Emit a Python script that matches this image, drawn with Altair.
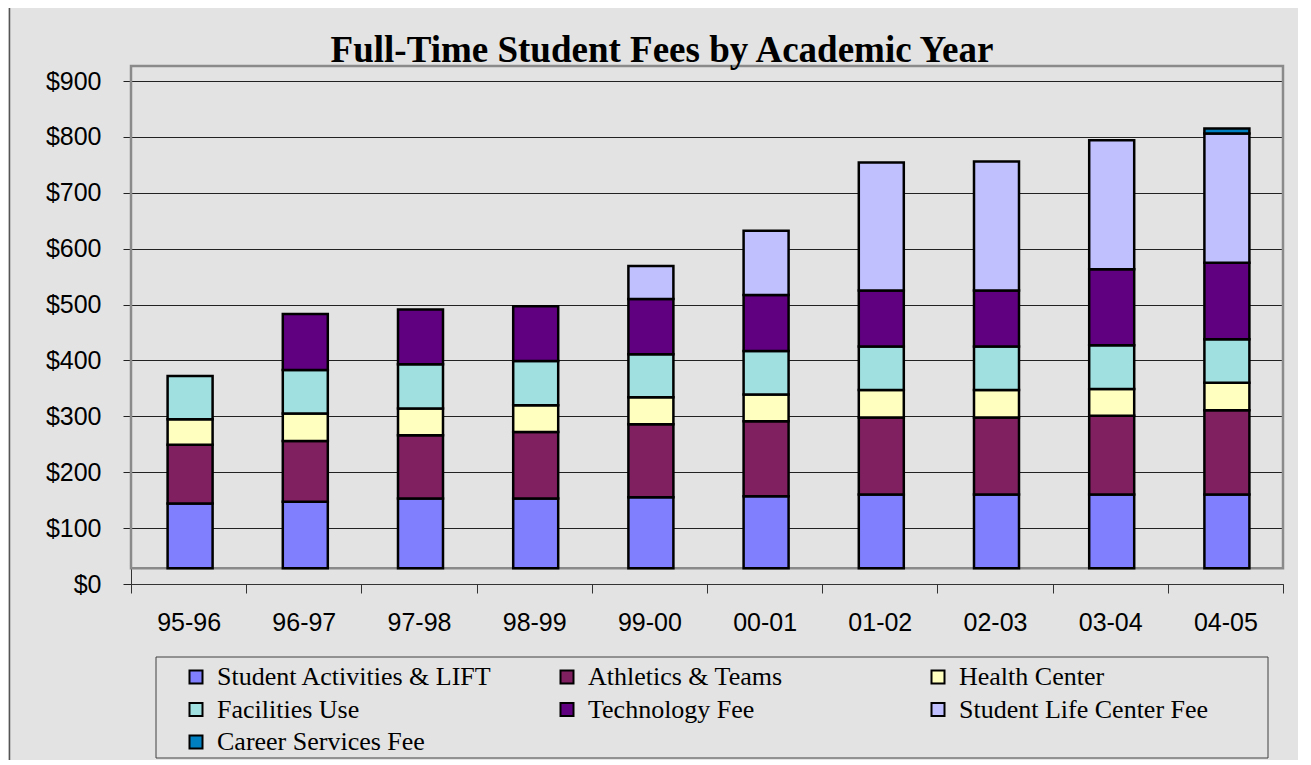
import altair as alt
import pandas as pd

TITLE = "Full-Time Student Fees by Academic Year"
YEARS = ["95-96", "96-97", "97-98", "98-99", "99-00", "00-01", "01-02", "02-03", "03-04", "04-05"]
SERIES = [
    "Student Activities & LIFT",
    "Athletics & Teams",
    "Health Center",
    "Facilities Use",
    "Technology Fee",
    "Student Life Center Fee",
    "Career  Services Fee",
]
COLORS = ["#8080FF", "#802060", "#FFFFC0", "#A0E0E0", "#600080", "#C0C0FF", "#0080C0"]

student_activities = [144, 147, 153, 153, 155, 157, 160, 160, 160, 160]
athletics = [105, 109, 113, 119, 131, 134, 138, 138, 141, 151]
health_center = [46, 49, 48, 48, 48, 48, 49, 49, 48, 49]
facilities = [77, 78, 79, 79, 77, 78, 78, 78, 78, 78]
technology = [0, 100, 98, 98, 99, 100, 100, 100, 136, 137]
student_life_center = [0, 0, 0, 0, 59, 115, 229, 231, 231, 231]
career_services = [0, 0, 0, 0, 0, 0, 0, 0, 0, 9]
SERIES_VALUES = [student_activities, athletics, health_center, facilities,
                 technology, student_life_center, career_services]

Y_TICKS = [0, 100, 200, 300, 400, 500, 600, 700, 800, 900]
FLOOR = 28       # level of the 3-D floor the columns stand on
WALL_TOP = 927   # top edge of the back wall

rows = []
for i, yr in enumerate(YEARS):
    cum = 0
    for k, (s, vals) in enumerate(zip(SERIES, SERIES_VALUES)):
        v = vals[i]
        if v <= 0:
            continue
        lo = max(cum, FLOOR)
        cum += v
        rows.append({"year": yr, "series": s, "order": k, "lo": lo, "hi": cum, "fee": v})
df = pd.DataFrame(rows)

W, H = 1152, 503

wall = alt.Chart(pd.DataFrame({"lo": [FLOOR], "hi": [WALL_TOP]})).mark_rect(
    filled=False, stroke="#8a8a8a", strokeWidth=2.5
).encode(
    x=alt.value(0), x2=alt.value("width"),
    y=alt.Y("hi:Q", title=None), y2="lo:Q",
)

bars = alt.Chart(df).mark_bar(size=45, stroke="black", strokeWidth=2.5, xOffset=1.5).encode(
    x=alt.X("year:N", sort=YEARS, title=None,
            scale=alt.Scale(paddingInner=0, paddingOuter=0),
            axis=alt.Axis(labelAngle=0, tickBand="extent", tickSize=9, labelPadding=17,
                          labelFont="Liberation Sans", labelFontSize=25, labelColor="black",
                          domainColor="#333333", tickColor="#333333", grid=False)),
    y=alt.Y("hi:Q", title=None,
            scale=alt.Scale(domain=[0, 900], nice=False, zero=True),
            axis=alt.Axis(values=Y_TICKS, labelExpr="'$' + datum.value", tickSize=8,
                          labelPadding=22, labelFont="Liberation Sans", labelFontSize=25,
                          labelColor="black", domainColor="#333333", tickColor="#222222",
                          grid=True, gridColor="#222222", gridWidth=1)),
    y2="lo:Q",
    color=alt.Color("series:N", scale=alt.Scale(domain=SERIES, range=COLORS),
                    legend=alt.Legend(orient="none", legendX=52, legendY=583, columns=3,
                                      direction="horizontal",
                                      gridAlign="all", columnPadding=61, rowPadding=6.5,
                                      symbolType="square", symbolSize=169,
                                      symbolStrokeWidth=2, symbolStrokeColor="black",
                                      labelFont="Liberation Serif", labelFontSize=26,
                                      labelOffset=8, labelLimit=600, labelColor="black",
                                      padding=0, title=None)),
    order=alt.Order("order:Q"),
)

legend_box = alt.Chart(pd.DataFrame({"k": [0]})).mark_rect(
    filled=False, stroke="#404040", strokeWidth=1
).encode(x=alt.value(25), x2=alt.value(1137), y=alt.value(576), y2=alt.value(677))

title = alt.Chart(pd.DataFrame({"t": [TITLE]})).mark_text(
    font="Liberation Serif", fontSize=37, fontWeight="bold", align="center",
    baseline="alphabetic", color="black"
).encode(text="t:N", x=alt.value(531), y=alt.value(-19))

left_border = alt.Chart(pd.DataFrame({"k": [0]})).mark_rule(
    color="#555555", strokeWidth=1.5
).encode(x=alt.value(-121.5), y=alt.value(-73), y2=alt.value(690))

chart = alt.layer(wall, bars, legend_box, title, left_border).properties(
    width=W, height=H,
    autosize=alt.AutoSizeParams(type="none"),
    padding={"left": 123, "top": 73, "right": 15, "bottom": 176},
    background="#e3e3e3",
).configure_view(strokeWidth=0)

chart.save("out.html", embed_options={"renderer": "svg", "actions": False})
